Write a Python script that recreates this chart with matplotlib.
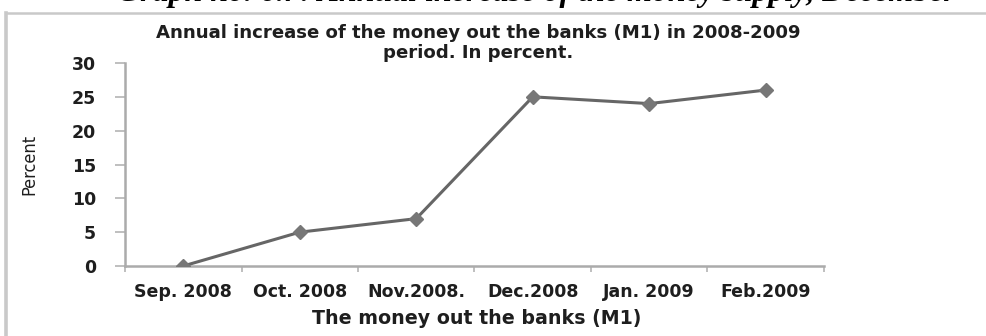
import matplotlib
matplotlib.use("Agg")
import matplotlib.pyplot as plt
from matplotlib.lines import Line2D
from matplotlib.font_manager import FontProperties

months = ["Sep. 2008", "Oct. 2008", "Nov.2008.", "Dec.2008", "Jan. 2009", "Feb.2009"]
increase_pct = [0, 5, 7, 25, 24, 26]
y_ticks = [0, 5, 10, 15, 20, 25, 30]

W, H = 987, 336
fig = plt.figure(figsize=(W / 100, H / 100), dpi=100)
fig.patch.set_facecolor("white")
renderer = fig.canvas.get_renderer()

INK = "#1e1e1e"
SANS = "DejaVu Sans"


def size_for_width(text, width_px, **props):
    """Font size (pt) at which `text` is `width_px` pixels wide."""
    fp = FontProperties(size=10, **props)
    w, _, _ = renderer.get_text_width_height_descent(text, fp, ismath=False)
    return 10 * width_px / w


def px(x, y):
    return x / W, 1 - y / H


# caption above the chart box (only its lower part shows)
caption = "Graph no. 6.7: Annual increase of the money supply, December"
cap_size = size_for_width(caption, 840, family="Liberation Serif", weight="bold", style="italic")
fig.text(*px(117, 0.5), caption, ha="left", va="baseline", fontsize=cap_size,
         fontweight="bold", fontstyle="italic", family="Liberation Serif", color="black")

# chart area border (left and top edges inside the image)
fig.add_artist(Line2D([6 / W, 6 / W], [0, 1 - 13 / H], transform=fig.transFigure,
                      color="#c9c9c9", linewidth=2.6))
fig.add_artist(Line2D([6 / W, 1], [1 - 13 / H, 1 - 13 / H], transform=fig.transFigure,
                      color="#c9c9c9", linewidth=1.8))

x0, x1, y_top, y_bot = 125, 824, 63, 266
ax = fig.add_axes([x0 / W, 1 - y_bot / H, (x1 - x0) / W, (y_bot - y_top) / H])
x = list(range(len(months)))
ax.plot(x, increase_pct, color="#666666", linewidth=2.2, marker="D", markersize=7.5,
        markerfacecolor="#777777", markeredgecolor="#777777", zorder=3)

tick_size = size_for_width("Sep. 2008", 98, family=SANS, weight="bold")

ax.set_xlim(-0.5, len(months) - 0.5)
ax.set_ylim(0, 30)
ax.set_yticks(y_ticks)
ax.set_yticklabels([str(v) for v in y_ticks], fontsize=tick_size, fontweight="bold",
                   family=SANS, color=INK)
ax.set_xticks(x)
ax.set_xticklabels(months, fontsize=tick_size, fontweight="bold", family=SANS, color=INK)
ax.set_xticks([i - 0.5 for i in range(len(months) + 1)], minor=True)
ax.tick_params(axis="x", which="major", length=0, pad=12)
ax.tick_params(axis="x", which="minor", length=4, width=1.2, color="#b4b4b4", direction="out")
ax.tick_params(axis="y", length=7, width=1.2, color="#b4b4b4", direction="out", pad=14)

for side in ("top", "right"):
    ax.spines[side].set_visible(False)
for side in ("left", "bottom"):
    ax.spines[side].set_color("#ababab")
    ax.spines[side].set_linewidth(1.8)

ax.set_ylabel("Percent", fontsize=13, family="DejaVu Sans", fontstretch="condensed",
              color=INK)
ax.yaxis.set_label_coords((38 - x0) / (x1 - x0), 0.5)

xlabel = "The money out the banks (M1)"
xl_size = size_for_width(xlabel, 330, family=SANS, weight="bold")
fig.text(*px(477, 319), xlabel, ha="center", va="center", fontsize=xl_size,
         fontweight="bold", family=SANS, color=INK)

title1 = "Annual increase of the money out the banks (M1) in 2008-2009"
title2 = "period. In percent."
t_size = size_for_width(title1, 650, family=SANS, weight="bold")
fig.text(*px(478, 33), title1, ha="center", va="center", fontsize=t_size,
         fontweight="bold", family=SANS, color=INK)
fig.text(*px(478, 53), title2, ha="center", va="center", fontsize=t_size,
         fontweight="bold", family=SANS, color=INK)

fig.savefig("out.png", dpi=100)
